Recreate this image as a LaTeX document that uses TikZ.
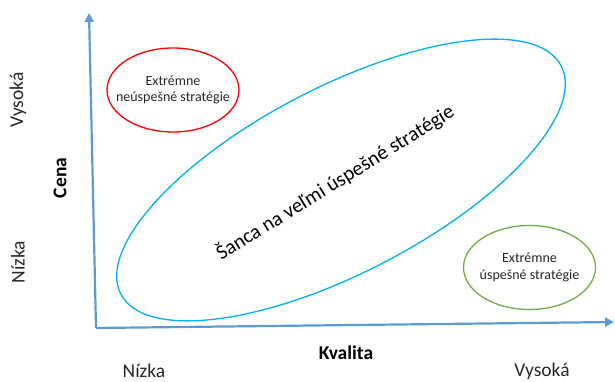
\documentclass[tikz,border=0pt]{standalone}
\usepackage{fontspec}
\setmainfont{Carlito}
\usetikzlibrary{arrows.meta,shapes.geometric}
\definecolor{axisblue}{HTML}{5B9BD5}
\definecolor{cyanline}{HTML}{00B0F0}
\definecolor{redline}{HTML}{FF0000}
\definecolor{greenline}{HTML}{70AD47}
\definecolor{txt}{HTML}{262626}
\tikzset{
  axisline/.style={draw=axisblue,line width=2.2pt,-{Triangle[length=9pt,width=9pt]}},
  oval/.style={ellipse,line width=1.3pt,minimum width=132pt,minimum height=84pt,align=center,font=\fontsize{14}{16.5}\selectfont,text=txt,inner xsep=-20pt,inner ysep=0pt},
  lbl/.style={font=\fontsize{19.5}{22}\selectfont,text=txt,inner sep=0pt},
  blbl/.style={font=\bfseries\fontsize{19.5}{22}\selectfont,text=black,inner sep=0pt}
}
\begin{document}
\begin{tikzpicture}[x=1pt,y=1pt]
\useasboundingbox (0,0) rectangle (615,382);
\coordinate (O) at (96,54);
\coordinate (Ytop) at (89,369);
\coordinate (Xend) at (614,60);
\draw[axisline] (O) -- (Ytop);
\draw[axisline] (O) -- (Xend);
\node[draw=cyanline,line width=1.3pt,ellipse,minimum width=496pt,minimum height=186pt,rotate=27.4,inner sep=0pt] (big) at (341,202) {};
\node[rotate=31.8,font=\fontsize{20.6}{24}\selectfont,text=black,inner sep=0pt] (bigtxt) at (335,199.5) {Šanca na veľmi úspešné stratégie};
\node[oval,draw=redline] (red) at (173,292) {Extrémne\\neúspešné stratégie};
\node[oval,draw=greenline] (green) at (529.5,114.5) {Extrémne\\úspešné stratégie};
\node[lbl,rotate=90] (vy) at (18,282) {Vysoká};
\node[lbl,rotate=90] (ny) at (18,120) {Nízka};
\node[blbl,rotate=90] (cena) at (60,204) {Cena};
\node[blbl] (kval) at (346,29) {Kvalita};
\node[lbl] (nx) at (144,11) {Nízka};
\node[lbl] (vx) at (542,11) {Vysoká};
\end{tikzpicture}
\end{document}
